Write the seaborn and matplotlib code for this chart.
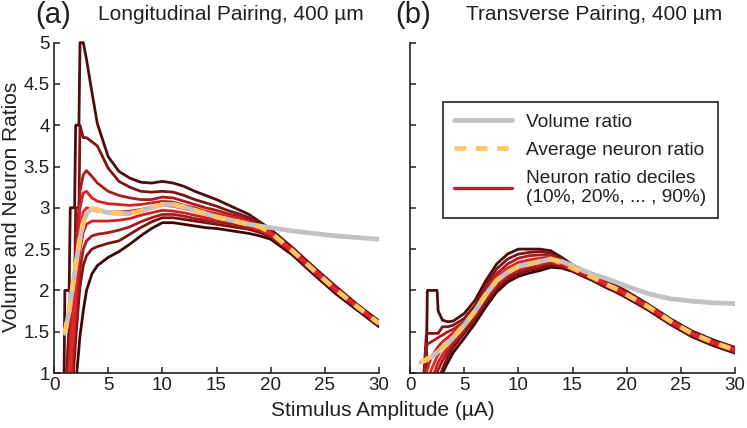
import numpy as np
import matplotlib
matplotlib.use("Agg")
import matplotlib.pyplot as plt
from matplotlib.lines import Line2D
import seaborn as sns

# ---- panel (a): longitudinal pairing ----
x_a = [0.9, 1.0, 1.4, 1.5, 1.9, 2.0, 2.3, 2.4, 2.7, 3.0, 3.5, 4, 5, 6, 7, 8, 9, 10,
       11, 12, 13, 14, 15, 16, 17, 18, 19, 20, 22, 24, 26, 28, 30]

vol_a = [np.nan, 1.48, 1.75, 1.85, 2.2, 2.3, 2.55, 2.63, 2.82, 2.93, 2.99, 2.98, 2.94, 2.93, 2.93,
         2.96, 3.0, 3.04, 3.04, 3.01, 2.97, 2.93, 2.89, 2.86, 2.83, 2.8, 2.78, 2.76, 2.72,
         2.69, 2.66, 2.64, 2.62]
avg_a = [np.nan, 1.48, 1.75, 1.85, 2.2, 2.3, 2.55, 2.63, 2.82, 2.93, 2.99, 2.98, 2.94, 2.93, 2.93,
         2.96, 3.0, 3.04, 3.04, 3.01, 2.97, 2.93, 2.89, 2.86, 2.83, 2.8, 2.77, 2.7, 2.48,
         2.24, 2.01, 1.8, 1.6]

dec_a = {
    "90%": [0.5, 2.0, 2.0, 3.0, 3.0, 4.0, 4.0, 5.0, 5.0, 4.8, 4.4, 4.02, 3.62, 3.44, 3.36, 3.31,
            3.3, 3.32, 3.3, 3.26, 3.2, 3.15, 3.1, 3.04, 2.98, 2.92, 2.83, 2.74, 2.52, 2.28,
            2.05, 1.83, 1.63],
    "80%": [0.3, 0.6, 1.6, 2.0, 2.0, 3.0, 3.0, 4.0, 3.85, 3.85, 3.8, 3.75, 3.48, 3.32, 3.25,
            3.2, 3.19, 3.2, 3.19, 3.15, 3.1, 3.06, 3.02, 2.97, 2.93, 2.88, 2.8, 2.72, 2.51,
            2.27, 2.04, 1.82, 1.62],
    "70%": [0.2, 0.4, 1.2, 1.5, 2.2, 2.5, 3.0, 3.2, 3.4, 3.45, 3.38, 3.3, 3.2, 3.15, 3.12,
            3.1, 3.1, 3.13, 3.12, 3.08, 3.04, 3.0, 2.97, 2.93, 2.9, 2.85, 2.78, 2.71, 2.5,
            2.26, 2.03, 1.81, 1.61],
    "60%": [0.1, 0.3, 1.0, 1.3, 2.0, 2.3, 2.8, 3.0, 3.18, 3.2, 3.12, 3.08, 3.05, 3.04, 3.03,
            3.04, 3.06, 3.08, 3.07, 3.03, 3.0, 2.96, 2.93, 2.9, 2.87, 2.83, 2.77, 2.7, 2.49,
            2.25, 2.02, 1.81, 1.61],
    "50%": [0.0, 0.2, 0.9, 1.1, 1.8, 2.1, 2.6, 2.75, 2.95, 3.0, 2.98, 2.96, 2.95, 2.95, 2.96,
            2.98, 3.01, 3.03, 3.02, 2.99, 2.96, 2.92, 2.89, 2.87, 2.84, 2.8, 2.75, 2.69, 2.48,
            2.24, 2.01, 1.8, 1.6],
    "40%": [0.0, 0.1, 0.7, 0.9, 1.6, 1.85, 2.35, 2.5, 2.7, 2.8, 2.84, 2.84, 2.84, 2.85, 2.87,
            2.91, 2.94, 2.97, 2.96, 2.94, 2.91, 2.88, 2.86, 2.84, 2.81, 2.78, 2.73, 2.67, 2.47,
            2.23, 2.0, 1.79, 1.59],
    "30%": [0.0, 0.0, 0.5, 0.7, 1.4, 1.6, 2.1, 2.25, 2.5, 2.6, 2.66, 2.68, 2.7, 2.73, 2.77,
            2.83, 2.88, 2.92, 2.92, 2.9, 2.87, 2.85, 2.83, 2.81, 2.79, 2.76, 2.72, 2.66, 2.46,
            2.22, 1.99, 1.79, 1.59],
    "20%": [0.0, 0.0, 0.3, 0.5, 1.2, 1.4, 1.9, 2.05, 2.3, 2.42, 2.5, 2.53, 2.57, 2.6, 2.68,
            2.76, 2.83, 2.88, 2.88, 2.86, 2.84, 2.82, 2.8, 2.78, 2.76, 2.74, 2.7, 2.65, 2.45,
            2.21, 1.98, 1.78, 1.58],
    "10%": [0.0, 0.0, 0.0, 0.2, 0.7, 0.85, 1.3, 1.45, 1.75, 2.0, 2.2, 2.3, 2.4, 2.47, 2.56,
            2.66, 2.75, 2.82, 2.82, 2.8, 2.78, 2.76, 2.75, 2.73, 2.71, 2.69, 2.66, 2.62, 2.43,
            2.19, 1.96, 1.76, 1.56],
}

# ---- panel (b): transverse pairing ----
x_b = [1.0, 1.5, 1.6, 2.0, 2.5, 2.6, 3.0, 3.5, 4, 5, 6, 7, 8, 9, 10, 11, 12, 13, 14, 15,
       16, 17, 18, 19, 20, 22, 24, 26, 28, 30]

vol_b = [1.13, 1.16, 1.17, 1.2, 1.25, 1.26, 1.3, 1.36, 1.43, 1.58, 1.75, 1.95, 2.12, 2.22,
         2.29, 2.32, 2.35, 2.38, 2.35, 2.3, 2.24, 2.19, 2.15, 2.1, 2.05, 1.96, 1.9, 1.87,
         1.85, 1.84]
avg_b = [1.13, 1.16, 1.17, 1.2, 1.25, 1.26, 1.3, 1.36, 1.43, 1.58, 1.75, 1.95, 2.12, 2.22,
         2.29, 2.32, 2.35, 2.38, 2.33, 2.27, 2.21, 2.15, 2.08, 2.02, 1.95, 1.8, 1.63, 1.48,
         1.37, 1.28]

dec_b = {
    "90%": [0.5, 1.0, 2.0, 2.0, 2.0, 1.75, 1.64, 1.62, 1.63, 1.72, 1.88, 2.12, 2.32, 2.44,
            2.5, 2.5, 2.5, 2.48, 2.4, 2.31, 2.25, 2.19, 2.12, 2.06, 1.99, 1.83, 1.66, 1.51,
            1.4, 1.31],
    "80%": [0.4, 1.45, 1.48, 1.48, 1.48, 1.48, 1.56, 1.56, 1.58, 1.66, 1.82, 2.07, 2.26, 2.38,
            2.44, 2.46, 2.47, 2.45, 2.38, 2.3, 2.24, 2.18, 2.11, 2.05, 1.98, 1.82, 1.65, 1.5,
            1.39, 1.3],
    "70%": [0.3, 1.3, 1.35, 1.38, 1.42, 1.43, 1.46, 1.5, 1.53, 1.62, 1.78, 2.02, 2.2, 2.32,
            2.39, 2.42, 2.43, 2.42, 2.36, 2.29, 2.23, 2.17, 2.1, 2.04, 1.97, 1.81, 1.64,
            1.49, 1.38, 1.29],
    "60%": [0.2, 1.0, 1.05, 1.2, 1.3, 1.32, 1.38, 1.43, 1.49, 1.6, 1.76, 1.98, 2.16, 2.27,
            2.34, 2.37, 2.39, 2.4, 2.34, 2.28, 2.22, 2.16, 2.09, 2.03, 1.96, 1.81, 1.64,
            1.49, 1.37, 1.28],
    "50%": [0.1, 0.8, 0.9, 1.05, 1.2, 1.22, 1.3, 1.37, 1.44, 1.58, 1.74, 1.95, 2.12, 2.23,
            2.29, 2.33, 2.35, 2.37, 2.33, 2.27, 2.21, 2.15, 2.08, 2.02, 1.95, 1.8, 1.63,
            1.48, 1.37, 1.28],
    "40%": [0.0, 0.6, 0.7, 0.9, 1.1, 1.13, 1.22, 1.31, 1.39, 1.55, 1.71, 1.91, 2.08, 2.19,
            2.26, 2.3, 2.32, 2.35, 2.31, 2.26, 2.2, 2.14, 2.07, 2.01, 1.94, 1.79, 1.62,
            1.47, 1.36, 1.27],
    "30%": [0.0, 0.4, 0.5, 0.75, 1.0, 1.04, 1.15, 1.26, 1.35, 1.52, 1.68, 1.88, 2.05, 2.16,
            2.23, 2.27, 2.3, 2.33, 2.3, 2.25, 2.19, 2.13, 2.06, 2.0, 1.93, 1.78, 1.61,
            1.46, 1.35, 1.26],
    "20%": [0.0, 0.2, 0.3, 0.55, 0.85, 0.9, 1.05, 1.2, 1.31, 1.48, 1.65, 1.85, 2.02, 2.13,
            2.2, 2.24, 2.27, 2.31, 2.29, 2.24, 2.18, 2.12, 2.05, 1.99, 1.92, 1.77, 1.6,
            1.45, 1.34, 1.25],
    "10%": [0.0, 0.0, 0.1, 0.4, 0.75, 0.8, 1.0, 1.13, 1.25, 1.42, 1.6, 1.8, 1.98, 2.1,
            2.17, 2.21, 2.24, 2.28, 2.27, 2.23, 2.17, 2.11, 2.04, 1.98, 1.91, 1.76, 1.59,
            1.44, 1.33, 1.24],
}

dec_colors = {
    "10%": "#3e0707", "90%": "#4e0c0c",
    "20%": "#7a1212", "80%": "#7e1414",
    "30%": "#a8191b", "70%": "#ad1a1c",
    "40%": "#cf2024", "60%": "#d42226",
    "50%": "#e5262a",
}
draw_order = ["10%", "90%", "20%", "80%", "30%", "70%", "40%", "60%", "50%"]

vol_color = "#c2c2c6"
avg_color = "#fdc863"
text_color = "#231f20"

sns.set_style("ticks")
plt.rcParams["font.family"] = ["Liberation Sans", "DejaVu Sans"]
plt.rcParams["text.color"] = text_color
plt.rcParams["xtick.color"] = text_color
plt.rcParams["ytick.color"] = text_color

fig = plt.figure(figsize=(7.47, 4.28), dpi=100)
W, H = 747, 428
ax_a = fig.add_axes([54 / W, 1 - 373 / H, 325 / W, 332 / H])
ax_b = fig.add_axes([410 / W, 1 - 373 / H, 325 / W, 332 / H])


def draw_panel(ax, x, vol, avg, dec):
    for k in draw_order:
        sns.lineplot(x=x, y=dec[k], ax=ax, color=dec_colors[k], lw=2.0,
                     estimator=None, sort=False)
    sns.lineplot(x=x, y=vol, ax=ax, color=vol_color, lw=3.4,
                 estimator=None, sort=False)
    sns.lineplot(x=x, y=avg, ax=ax, color=avg_color, lw=3.4,
                 linestyle=(0, (2.5, 2.0)), estimator=None, sort=False)
    ax.set_xlim(0, 30)
    ax.set_ylim(1, 5.02)
    ax.set_xticks(range(0, 31, 5))
    ax.set_yticks([1, 1.5, 2, 2.5, 3, 3.5, 4, 4.5, 5])
    ax.spines["left"].set_bounds(1, 5)
    ax.spines["right"].set_visible(False)
    ax.spines["top"].set_visible(False)
    for s in ("left", "bottom"):
        ax.spines[s].set_linewidth(1.2)
        ax.spines[s].set_color(text_color)
    ax.tick_params(direction="in", length=4, width=1.1, labelsize=13.5, pad=3)
    ax.set_xlabel("")
    ax.set_ylabel("")
    if ax.get_legend() is not None:
        ax.get_legend().remove()


draw_panel(ax_a, x_a, vol_a, avg_a, dec_a)
draw_panel(ax_b, x_b, vol_b, avg_b, dec_b)

ax_a.set_yticklabels(["1", "1.5", "2", "2.5", "3", "3.5", "4", "4.5", "5"])
ax_b.set_yticklabels([])

handles = [
    Line2D([], [], color=vol_color, lw=3.4),
    Line2D([], [], color=avg_color, lw=3.4, linestyle=(0, (2.5, 2.0))),
    Line2D([], [], color="#c0202a", lw=2.4),
]
labels = ["Volume ratio", "Average neuron ratio",
          "Neuron ratio deciles\n(10%, 20%, ... , 90%)"]
leg = ax_b.legend(handles, labels, loc="upper left", bbox_to_anchor=(0.1, 0.816),
                  fontsize=13.8, frameon=True, fancybox=False, framealpha=1,
                  borderaxespad=0, handlelength=3.0, handletextpad=0.75,
                  borderpad=0.6, labelspacing=0.55)
leg.get_frame().set_edgecolor(text_color)
leg.get_frame().set_linewidth(1.2)

fig.text(35 / W, 1 - 15 / H, "(a)", fontsize=21, va="center", ha="left")
fig.text(231 / W, 1 - 14 / H, "Longitudinal Pairing, 400 µm", fontsize=15,
         va="center", ha="center")
fig.text(395 / W, 1 - 15 / H, "(b)", fontsize=21, va="center", ha="left")
fig.text(594 / W, 1 - 14 / H, "Transverse Pairing, 400 µm", fontsize=15,
         va="center", ha="center")
fig.text(12 / W, 1 - 207 / H, "Volume and Neuron Ratios", fontsize=15,
         rotation=90, va="center", ha="center")
fig.text(383 / W, 1 - 410 / H, "Stimulus Amplitude (µA)", fontsize=15,
         va="center", ha="center")

fig.savefig("out.png", dpi=100)
